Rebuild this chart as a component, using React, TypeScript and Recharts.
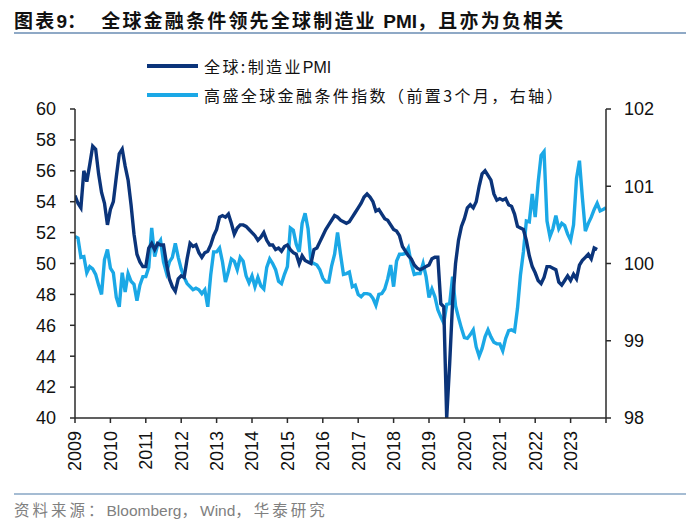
import React from 'react';
import { LineChart, Line, XAxis, YAxis } from 'recharts';

// monthly series, both starting Jan 2009
const startYear = 2009;

const yearTicks = [2009, 2010, 2011, 2012, 2013, 2014, 2015, 2016, 2017, 2018, 2019, 2020, 2021, 2022, 2023, 2024];
const pmiTicks = [40, 42, 44, 46, 48, 50, 52, 54, 56, 58, 60];
const fciTicks = [98, 99, 100, 101, 102];

// 全球:制造业PMI
const pmiValues = [
  54.4, 53.9, 53.6, 56.0, 55.3, 56.4, 57.6, 57.4, 55.8, 54.6,
  53.9, 52.5, 53.5, 54.0, 55.6, 57.1, 57.4, 56.3, 55.4, 53.8,
  51.9, 50.6, 50.1, 49.8, 49.8, 51.0, 51.3, 50.9, 51.3, 51.2,
  51.2, 50.0, 49.0, 48.5, 48.2, 49.0, 49.2, 49.1, 50.3, 51.3,
  51.1, 51.2, 50.7, 50.4, 50.7, 50.8, 51.2, 51.8, 52.2, 53.0,
  53.1, 53.0, 53.2, 52.6, 51.9, 52.3, 52.5, 52.5, 52.4, 52.2,
  52.0, 51.8, 51.5, 51.7, 52.0, 51.5, 51.2, 51.2, 50.9, 51.0,
  50.8, 51.1, 51.2, 50.9, 50.7, 50.6, 50.0, 50.5, 50.2, 50.1,
  50.0, 50.9, 51.0, 51.4, 51.8, 52.2, 52.5, 52.8, 53.1, 53.0,
  52.8, 52.7, 52.6, 52.7, 53.0, 53.3, 53.6, 53.9, 54.3, 54.5,
  54.3, 54.0, 53.4, 53.5, 53.2, 52.9, 52.8, 52.5, 52.2, 52.1,
  51.8, 51.1, 50.8, 50.5, 50.3, 49.9, 49.7, 49.6, 49.7, 49.8,
  49.9, 50.3, 50.4, 50.4, 47.4, 47.2, 40.0, 43.5, 47.5, 50.0,
  51.5, 52.4, 52.9, 53.6, 53.8, 53.6, 54.0, 55.0, 55.8, 56.0,
  55.7, 55.4, 54.5, 54.1, 54.2, 54.1, 54.2, 53.8, 53.7, 53.2,
  52.4, 52.3, 52.2, 51.5, 50.5, 49.8, 49.4, 48.9, 48.7, 49.1,
  49.8, 49.8, 49.7, 49.6, 48.8, 48.6, 48.9, 49.2, 48.9, 49.3,
  49.0, 49.9, 50.2, 50.4, 50.6, 50.3, 51.0, 50.9,
];

// 高盛全球金融条件指数（前置3个月，右轴）
const fciValues = [
  100.35, 100.33, 100.08, 100.09, 99.88, 99.96, 99.93, 99.86, 99.72, 99.60,
  100.05, 100.18, 99.94, 99.88, 99.56, 99.44, 99.88, 99.63, 99.87, 99.77,
  99.73, 99.52, 99.72, 99.83, 99.83, 99.95, 100.46, 100.09, 100.24, 100.30,
  100.02, 99.88, 100.02, 100.08, 100.26, 100.08, 99.93, 99.82, 99.74, 99.70,
  99.66, 99.68, 99.66, 99.61, 99.66, 99.44, 99.85, 100.15, 100.15, 100.20,
  100.02, 99.76, 99.90, 100.06, 100.03, 99.92, 100.08, 100.03, 99.84, 99.75,
  99.84, 99.70, 99.82, 99.71, 99.67, 99.95, 100.06, 100.00, 99.92, 99.77,
  99.74, 99.86, 99.96, 100.46, 100.43, 100.25, 100.15, 100.52, 100.65, 100.45,
  100.02, 100.00, 99.98, 99.92, 99.81, 99.76, 99.76, 99.97, 100.12, 100.40,
  100.12, 99.86, 99.87, 99.89, 99.70, 99.72, 99.60, 99.57, 99.61, 99.61,
  99.60, 99.55, 99.46, 99.60, 99.61, 99.67, 99.80, 99.98, 99.70, 100.03,
  100.12, 100.12, 100.13, 100.20, 100.00, 99.86, 99.87, 99.87, 100.00, 99.83,
  99.56, 99.67, 99.57, 99.40, 99.31, 99.23, 99.47, 99.48, 99.83, 99.45,
  99.30, 99.16, 99.04, 99.03, 99.08, 99.14, 98.92, 98.80, 98.90, 99.05,
  99.14, 99.05, 98.98, 98.96, 98.96, 98.87, 99.03, 99.13, 99.14, 99.12,
  99.42, 99.85, 100.15, 100.55, 100.54, 100.90, 100.60, 101.05, 101.40, 101.45,
  100.55, 100.35, 100.45, 100.62, 100.45, 100.52, 100.49, 100.38, 100.30, 100.50,
  101.10, 101.33, 100.85, 100.42, 100.52, 100.60, 100.70, 100.78, 100.68, 100.70,
  100.72,
];

const data = fciValues.map((v, i) => ({
  t: startYear + i / 12,
  fci: v,
  pmi: pmiValues[i],
}));

const DARK = '#0B347A';
const LIGHT = '#1BA8E6';
const AXIS = '#2b2b2b';
const NUM_FONT = '"Liberation Sans", Arial, sans-serif';
const CJK_FONT = '"Noto Sans CJK SC", "Liberation Sans", sans-serif';

const tight = (s: string) => <span style={{ letterSpacing: 0, fontFamily: NUM_FONT }}>{s}</span>;

const YearTick = (props: any) => {
  const { x, y, payload } = props;
  if (payload.value === 2024) return <g />;
  return (
    <g transform={`translate(${x},${y})`}>
      <text
        transform="rotate(-90)"
        textAnchor="end"
        dy="0.36em"
        fontSize={18}
        fontFamily={NUM_FONT}
        fill="#111"
      >
        {payload.value}
      </text>
    </g>
  );
};

const LegendRow = ({ color, label, top }: { color: string; label: React.ReactNode; top: number }) => (
  <div style={{ position: 'absolute', left: 147, top: top - 12, height: 24, display: 'flex', alignItems: 'center' }}>
    <div style={{ width: 51, height: 4, background: color, marginRight: 6 }} />
    <span style={{ fontFamily: CJK_FONT, fontSize: 16, letterSpacing: 2.4, color: '#111', whiteSpace: 'nowrap' }}>
      {label}
    </span>
  </div>
);

export default function App() {
  return (
    <div style={{ position: 'absolute', left: 0, top: 0, width: 700, height: 529, background: '#fff', overflow: 'hidden' }}>
      <div
        style={{
          position: 'absolute',
          left: 14,
          top: 6,
          fontFamily: CJK_FONT,
          fontWeight: 700,
          fontSize: 19,
          letterSpacing: 2.2,
          color: '#111',
          whiteSpace: 'pre',
          lineHeight: '28px',
        }}
      >
        图表{tight('9')}：  全球金融条件领先全球制造业 {tight('PMI')}，且亦为负相关
      </div>
      <div style={{ position: 'absolute', left: 14, top: 32, width: 672, height: 2, background: '#8FA9C6' }} />

      <LegendRow color={DARK} label={<>全球:制造业{tight('PMI')}</>} top={66} />
      <LegendRow color={LIGHT} label="高盛全球金融条件指数（前置3个月，右轴）" top={95} />

      <div style={{ position: 'absolute', left: 0, top: 0 }}>
        <LineChart width={700} height={529} data={data} margin={{ top: 109, right: 54, bottom: 51, left: 35 }}>
          <XAxis
            dataKey="t"
            type="number"
            domain={[2009, 2024]}
            ticks={yearTicks}
            interval={0}
            height={60}
            tick={<YearTick />}
            tickSize={5}
            tickMargin={8}
            stroke={AXIS}
            strokeWidth={1.5}
            allowDataOverflow
          />
          <YAxis
            yAxisId="left"
            domain={[40, 60]}
            ticks={pmiTicks}
            interval={0}
            width={40}
            tickSize={5}
            tickMargin={14}
            stroke={AXIS}
            strokeWidth={1.5}
            tick={{ fill: '#111', fontSize: 18, fontFamily: NUM_FONT }}
            allowDataOverflow
          />
          <YAxis
            yAxisId="right"
            orientation="right"
            domain={[98, 102]}
            ticks={fciTicks}
            interval={0}
            width={40}
            tickSize={5}
            tickMargin={13}
            stroke={AXIS}
            strokeWidth={1.5}
            tick={{ fill: '#111', fontSize: 18, fontFamily: NUM_FONT, textAnchor: 'start' }}
            allowDataOverflow
          />
          <Line
            yAxisId="right"
            type="linear"
            dataKey="fci"
            stroke={LIGHT}
            strokeWidth={3.4}
            dot={false}
            isAnimationActive={false}
          />
          <Line
            yAxisId="left"
            type="linear"
            dataKey="pmi"
            stroke={DARK}
            strokeWidth={3.4}
            dot={false}
            isAnimationActive={false}
          />
        </LineChart>
      </div>

      <div style={{ position: 'absolute', left: 14, top: 493, width: 672, height: 2, background: '#A5BCD3' }} />
      <div
        style={{
          position: 'absolute',
          left: 14,
          top: 497,
          fontFamily: CJK_FONT,
          fontSize: 15.5,
          letterSpacing: 3,
          color: '#808080',
          whiteSpace: 'nowrap',
          lineHeight: '24px',
        }}
      >
        资料来源：{tight('Bloomberg')}，{tight('Wind')}，华泰研究
      </div>
    </div>
  );
}
